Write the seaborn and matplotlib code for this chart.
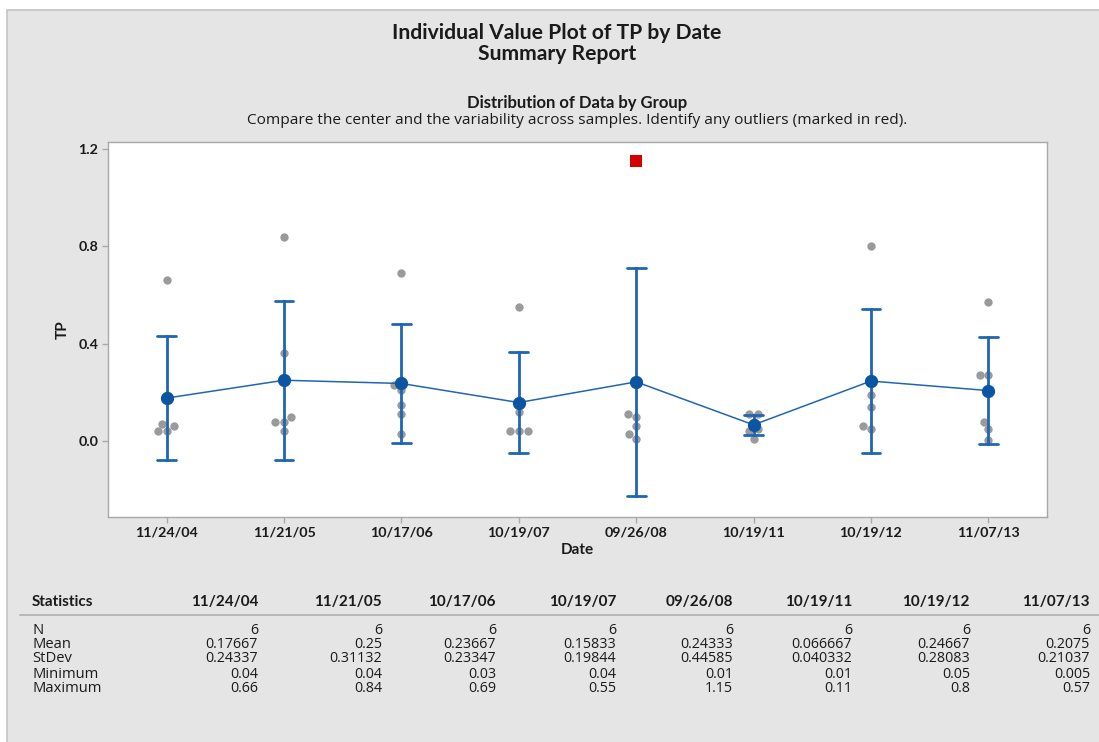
import numpy as np
import pandas as pd
import matplotlib
matplotlib.use("Agg")
import matplotlib.pyplot as plt
import seaborn as sns
from matplotlib.patches import Rectangle
from matplotlib.lines import Line2D

# ---------------- data ----------------
dates = ["11/24/04", "11/21/05", "10/17/06", "10/19/07",
         "09/26/08", "10/19/11", "10/19/12", "11/07/13"]
tp_1124_04 = [0.66, 0.19, 0.07, 0.06, 0.04, 0.04]
tp_1121_05 = [0.84, 0.36, 0.10, 0.08, 0.08, 0.04]
tp_1017_06 = [0.69, 0.23, 0.21, 0.15, 0.11, 0.03]
tp_1019_07 = [0.55, 0.16, 0.12, 0.04, 0.04, 0.04]
tp_0926_08 = [1.15, 0.11, 0.10, 0.06, 0.03, 0.01]
tp_1019_11 = [0.11, 0.11, 0.08, 0.05, 0.04, 0.01]
tp_1019_12 = [0.80, 0.24, 0.19, 0.14, 0.06, 0.05]
tp_1107_13 = [0.57, 0.27, 0.27, 0.08, 0.05, 0.005]
groups = [tp_1124_04, tp_1121_05, tp_1017_06, tp_1019_07,
          tp_0926_08, tp_1019_11, tp_1019_12, tp_1107_13]
y_ticks = [0.0, 0.4, 0.8, 1.2]
stat_rows = ["N", "Mean", "StDev", "Minimum", "Maximum"]

# t quantiles (0.975) by degrees of freedom
T975 = {1: 12.706, 2: 4.303, 3: 3.182, 4: 2.776, 5: 2.571, 6: 2.447,
        7: 2.365, 8: 2.306, 9: 2.262, 10: 2.228}


def t_ci(v):
    v = np.asarray(v, float)
    n = len(v)
    m = v.mean()
    h = T975[n - 1] * v.std(ddof=1) / np.sqrt(n)
    return (m - h, m + h)


rows = []
for d, vals in zip(dates, groups):
    v = np.asarray(vals, float)
    q1, q3 = np.percentile(v, [25, 75], method="weibull")
    iqr = q3 - q1
    for x in v:
        out = (x > q3 + 1.5 * iqr) or (x < q1 - 1.5 * iqr)
        rows.append({"Date": d, "TP": x, "outlier": out})
df = pd.DataFrame(rows)

# ---------------- figure ----------------
W, H = 1099, 742
sns.set_theme(style="white")
plt.rcParams["font.family"] = ["Open Sans", "DejaVu Sans"]
BOLD = ["Lato", "DejaVu Sans"]
TXT = "#1a1a1a"

fig = plt.figure(figsize=(W / 100, H / 100), dpi=100)
fig.patch.set_facecolor("white")


def fx(x):
    return x / W


def fy(y):
    return 1 - y / H


panel = Rectangle((fx(7), -0.01), 1 - fx(7) + 0.01, fy(10) + 0.01, transform=fig.transFigure,
                  facecolor="#e5e5e5", edgecolor="#c4c4c4", linewidth=1.2, zorder=-5)
fig.patches.append(panel)

ax = fig.add_axes([fx(108), fy(517), fx(1047) - fx(108), fy(142) - fy(517)])
ax.set_zorder(2)
ax.set_facecolor("white")

grey = "#9a9a9a"
blue = "#1f66b3"
dark = "#0b55a3"

sns.swarmplot(data=df[~df["outlier"]], x="Date", y="TP", order=dates,
              color=grey, size=6, linewidth=0, ax=ax, zorder=1)
sns.stripplot(data=df[df["outlier"]], x="Date", y="TP", order=dates,
              color="#d40000", marker="s", size=8, jitter=False,
              linewidth=0, ax=ax, zorder=1)
sns.pointplot(data=df, x="Date", y="TP", order=dates, errorbar=t_ci,
              capsize=0.16, color=blue, linewidth=1.1, markersize=0.1,
              err_kws={"linewidth": 2.0}, ax=ax)
sns.pointplot(data=df, x="Date", y="TP", order=dates, errorbar=None,
              color=dark, linestyle="none", markers="o", markersize=7.5, ax=ax)

ax.set_xlim(-0.5, 7.5)
ax.set_ylim(-0.312, 1.229)
ax.set_yticks(y_ticks)
ax.set_yticklabels([f"{t:.1f}" for t in y_ticks])
for s in ax.spines.values():
    s.set_color("#a8a8a8")
    s.set_linewidth(1.0)
ax.tick_params(axis="both", direction="out", length=4, width=1, color="#a8a8a8",
               labelsize=10.3, labelcolor=TXT, pad=3, left=True, bottom=True)
for lab in ax.get_xticklabels() + ax.get_yticklabels():
    lab.set_fontfamily(BOLD)
    lab.set_fontweight("bold")
ax.set_xlabel("Date", fontsize=11, fontweight="bold", family=BOLD, labelpad=3, color=TXT)
ax.set_ylabel("TP", fontsize=11, fontweight="bold", family=BOLD, labelpad=6, color=TXT)

# ---------------- titles ----------------
fig.text(fx(557), fy(33), "Individual Value Plot of TP by Date", ha="center", va="center",
         fontsize=15.2, fontweight="bold", family=BOLD, color=TXT)
fig.text(fx(557), fy(54), "Summary Report", ha="center", va="center",
         fontsize=15.2, fontweight="bold", family=BOLD, color=TXT)
fig.text(fx(577), fy(103), "Distribution of Data by Group", ha="center", va="center",
         fontsize=12, fontweight="bold", family=BOLD, color=TXT)
fig.text(fx(577), fy(120),
         "Compare the center and the variability across samples. Identify any outliers (marked in red).",
         ha="center", va="center", fontsize=11.1, color=TXT)

# ---------------- statistics table ----------------
col_right = [258, 382, 496, 616, 733, 852, 970, 1090]
row_y = [630, 644, 659, 674, 689]
fig.text(fx(32), fy(602), "Statistics", ha="left", va="center", fontsize=11,
         fontweight="bold", family=BOLD, color=TXT)
for d, xr in zip(dates, col_right):
    fig.text(fx(xr), fy(602), d, ha="right", va="center", fontsize=11,
             fontweight="bold", family=BOLD, color=TXT)
fig.lines.append(Line2D([fx(20), 1.0], [fy(615), fy(615)], transform=fig.transFigure,
                        color="#b4b4b4", linewidth=1.3))


def fmt(v):
    return f"{v:.5g}"


for name, yy in zip(stat_rows, row_y):
    fig.text(fx(32), fy(yy), name, ha="left", va="center", fontsize=10.6, color=TXT)
for vals, xr in zip(groups, col_right):
    v = np.asarray(vals, float)
    stats = [str(len(v)), fmt(v.mean()), fmt(v.std(ddof=1)), fmt(v.min()), fmt(v.max())]
    for s, yy in zip(stats, row_y):
        fig.text(fx(xr), fy(yy), s, ha="right", va="center", fontsize=10.3, color=TXT)

fig.savefig("out.png", dpi=100, facecolor=fig.get_facecolor())
